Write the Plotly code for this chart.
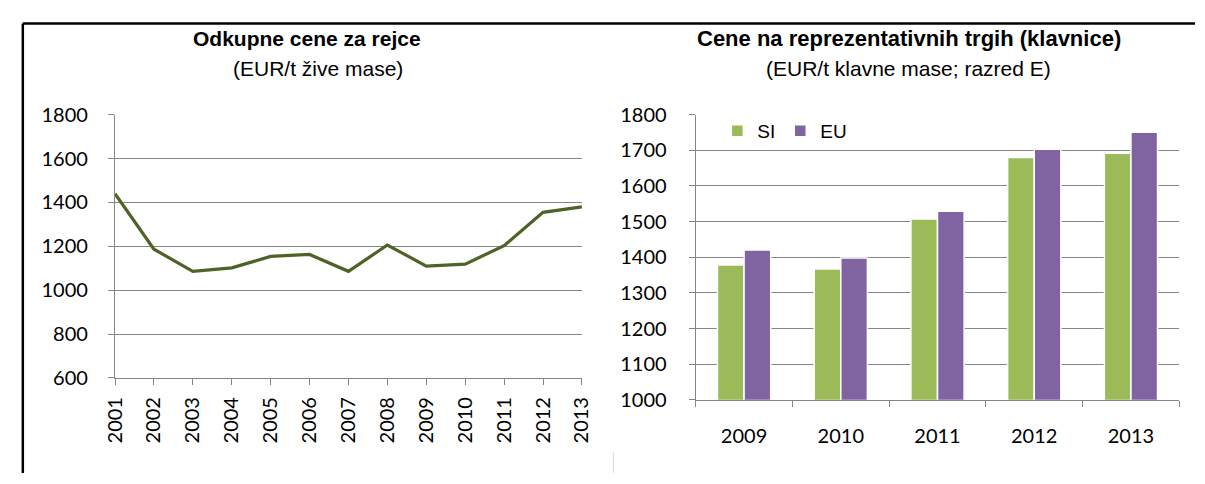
import plotly.graph_objects as go

# Left panel: purchase prices for breeders (EUR/t live weight)
years_line = ["2001", "2002", "2003", "2004", "2005", "2006", "2007",
              "2008", "2009", "2010", "2011", "2012", "2013"]
price_line = [1440, 1187, 1086, 1102, 1154, 1163, 1086,
              1206, 1110, 1119, 1203, 1355, 1380]

# Right panel: representative market prices (EUR/t carcass weight; class E)
years_bar = ["2009", "2010", "2011", "2012", "2013"]
si_values = [1378, 1367, 1507, 1680, 1692]
eu_values = [1420, 1398, 1529, 1703, 1751]

W, H = 1205, 484
GRID = "#868686"
TICK_FONT = dict(family="Lato, Carlito, Calibri, sans-serif", size=20, color="#000000")
TITLE_FAMILY = "Liberation Sans, Arial, sans-serif"


def px_x(p):
    return p / W


def px_y(p):
    return 1 - p / H


fig = go.Figure()

fig.add_trace(go.Scatter(
    x=years_line, y=price_line, mode="lines",
    line=dict(color="#4F6228", width=3.2),
    xaxis="x", yaxis="y", showlegend=False,
))

fig.add_trace(go.Bar(
    x=years_bar, y=si_values, name="SI",
    marker=dict(color="#9BBB59", line=dict(color="#FFFFFF", width=1.5)),
    xaxis="x2", yaxis="y2",
))
fig.add_trace(go.Bar(
    x=years_bar, y=eu_values, name="EU",
    marker=dict(color="#8064A2", line=dict(color="#FFFFFF", width=1.5)),
    xaxis="x2", yaxis="y2",
))

axis_common = dict(
    showline=True, linecolor=GRID, linewidth=1.2,
    ticks="outside", ticklen=6, tickcolor=GRID, tickwidth=1.2,
    tickfont=TICK_FONT, fixedrange=True,
)

fig.update_layout(
    width=W, height=H,
    margin=dict(l=0, r=0, t=0, b=0),
    paper_bgcolor="#FFFFFF", plot_bgcolor="#FFFFFF",
    barmode="group", bargap=0.45, bargroupgap=0.0,
    xaxis=dict(
        axis_common, domain=[px_x(104), px_x(580)], anchor="y",
        type="category", range=[0, 12], tickangle=-90,
        showgrid=False, ticklabelstandoff=4,
    ),
    yaxis=dict(
        axis_common, domain=[px_y(384), px_y(107)], anchor="x",
        range=[600, 1800], dtick=200, tick0=600,
        showgrid=True, gridcolor=GRID, gridwidth=1.2,
        ticklabelstandoff=16, zeroline=False,
    ),
    xaxis2=dict(
        axis_common, domain=[px_x(696), px_x(1189)], anchor="y2",
        type="category", tickson="boundaries", showgrid=False,
        ticklabelstandoff=18,
    ),
    yaxis2=dict(
        axis_common, domain=[px_y(407), px_y(107)], anchor="x2",
        range=[1000, 1800], dtick=100, tick0=1000,
        showgrid=True, gridcolor=GRID, gridwidth=1.2,
        ticklabelstandoff=18, zeroline=False,
    ),
    legend=dict(
        orientation="h", x=px_x(718), y=px_y(124), yanchor="middle",
        xanchor="left", bgcolor="rgba(0,0,0,0)",
        font=dict(family=TITLE_FAMILY, size=19, color="#000000"),
        itemwidth=30, tracegroupgap=0,
    ),
    showlegend=True,
)

# Panel headings
titles = [
    (px_x(300), px_y(27), "<b>Odkupne cene za rejce</b>", 21),
    (px_x(311), px_y(58), "(EUR/t žive mase)", 21),
    (px_x(913), px_y(27), "<b>Cene na reprezentativnih trgih (klavnice)</b>", 22),
    (px_x(913), px_y(58), "(EUR/t klavne mase; razred E)", 21),
]
for x, y, text, size in titles:
    fig.add_annotation(
        x=x, y=y, xref="paper", yref="paper", text=text, showarrow=False,
        xanchor="center", yanchor="middle",
        font=dict(family=TITLE_FAMILY, size=size, color="#000000"),
    )

# Outer frame (top and left edges) and the right panel's border stub
fig.add_shape(type="line", xref="paper", yref="paper",
              x0=px_x(10), x1=1, y0=px_y(11), y1=px_y(11),
              line=dict(color="#000000", width=2.5))
fig.add_shape(type="line", xref="paper", yref="paper",
              x0=px_x(10), x1=px_x(10), y0=px_y(11), y1=0,
              line=dict(color="#000000", width=2.5))
fig.add_shape(type="line", xref="paper", yref="paper",
              x0=px_x(612), x1=px_x(612), y0=px_y(462), y1=0,
              line=dict(color="#D9D9D9", width=1))

# Page body without the browser's default margin
fig.write_html(
    "out.html",
    post_script="document.body.style.margin='0';document.body.style.overflow='hidden';",
)
